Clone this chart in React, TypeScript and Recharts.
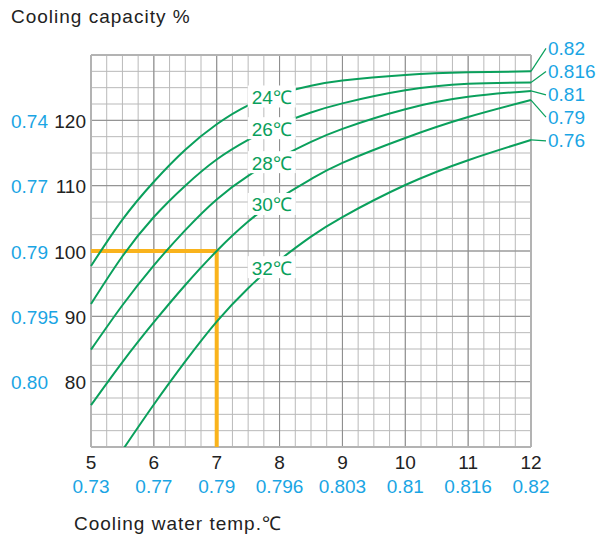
import React from 'react'
import {
  LineChart,
  Line,
  XAxis,
  YAxis,
  CartesianGrid,
  ReferenceLine,
  ReferenceDot,
} from 'recharts'

// cooling water temperature (x) and cooling capacity % for each air temperature
const waterTemps = [5, 5.5, 6, 6.5, 7, 7.5, 8, 8.5, 9, 10, 11, 12]
const cap24 = [97.7, 104.8, 110.6, 115.5, 119.4, 122.3, 124.1, 125.3, 126.1, 126.95, 127.35, 127.5]
const cap26 = [91.9, 99.2, 105.2, 110.0, 114.0, 117.0, 119.4, 121.2, 122.6, 124.6, 125.6, 125.8]
const cap28 = [84.9, 91.7, 97.8, 103.2, 107.9, 111.5, 114.3, 116.7, 118.7, 121.7, 123.6, 124.5]
const cap30 = [76.4, 83.0, 89.1, 94.8, 100.0, 104.5, 108.1, 111.0, 113.5, 117.3, 120.5, 123.1]
const cap32 = [null, 69.5, 76.5, 83.1, 89.2, 94.3, 98.6, 102.2, 105.2, 110.1, 113.9, 117.0]

const airTemps = ['24℃', '26℃', '28℃', '30℃', '32℃']
const endFactors = ['0.82', '0.816', '0.81', '0.79', '0.76']

const xTicks = [5, 6, 7, 8, 9, 10, 11, 12]
const xFactors = ['0.73', '0.77', '0.79', '0.796', '0.803', '0.81', '0.816', '0.82']
const yTicks = [80, 90, 100, 110, 120]
const yFactors = ['0.80', '0.795', '0.79', '0.77', '0.74']

const xDomain = [5, 12]
const yDomain = [70, 130]

// design point marked in orange
const designTemp = 7
const designCap = 100
const labelTemp = 7.875

const series = [cap24, cap26, cap28, cap30, cap32]
const keys = ['c24', 'c26', 'c28', 'c30', 'c32']

const rows = waterTemps.map((t, i) => {
  const row: any = { t }
  keys.forEach((k, s) => (row[k] = series[s][i]))
  return row
})

const minorX: number[] = []
for (let v = 5; v <= 12.001; v += 0.25) minorX.push(v)
const minorY: number[] = []
for (let v = 70; v <= 130.001; v += 2.5) minorY.push(v)
const majorX = xTicks
const majorY = [80, 90, 100, 110, 120]

const GREEN = '#0aa05c'
const BLUE = '#1aa5e4'
const ORANGE = '#f9b31c'
const FONT = '"Liberation Sans", Arial, sans-serif'

// leader line shift (px) from curve end to the factor text
const tagShift = [-23, -11, 4, 17, 1]

function valueAt(s: (number | null)[], x: number) {
  for (let i = 1; i < waterTemps.length; i++) {
    if (x <= waterTemps[i]) {
      const a = s[i - 1] as number
      const b = s[i] as number
      const f = (x - waterTemps[i - 1]) / (waterTemps[i] - waterTemps[i - 1])
      return a + (b - a) * f
    }
  }
  return s[s.length - 1] as number
}

const XTick = (props: any) => {
  const { x, y, payload, index } = props
  return (
    <g>
      <text x={x} y={y + 15} textAnchor="middle" dominantBaseline="central" fontSize={19} fill="#222" fontFamily={FONT}>
        {payload.value}
      </text>
      <text x={x} y={y + 39} textAnchor="middle" dominantBaseline="central" fontSize={19} fill={BLUE} fontFamily={FONT}>
        {xFactors[index]}
      </text>
    </g>
  )
}

const YTick = (props: any) => {
  const { x, y, payload, index } = props
  return (
    <g>
      <text x={x - 5} y={y + 1} textAnchor="end" dominantBaseline="central" fontSize={19} fill="#222" fontFamily={FONT}>
        {payload.value}
      </text>
      <text x={x - 80} y={y + 1} textAnchor="start" dominantBaseline="central" fontSize={19} fill={BLUE} fontFamily={FONT}>
        {yFactors[index]}
      </text>
    </g>
  )
}

const endTag = (s: number) => (props: any) => {
  const { x, y, index } = props
  if (index !== waterTemps.length - 1) return <g />
  const ty = y + tagShift[s]
  return (
    <g>
      <line x1={x} y1={y} x2={x + 15} y2={ty} stroke={GREEN} strokeWidth={1.2} />
      <text x={x + 17} y={ty} dominantBaseline="central" fontSize={19} fill={BLUE} fontFamily={FONT}>
        {endFactors[s]}
      </text>
    </g>
  )
}

const curveLabel = (s: number) => (props: any) => {
  const { cx, cy } = props
  return (
    <g>
      <rect x={cx - 24} y={cy - 11} width={48} height={22} fill="#fff" />
      <text x={cx} y={cy + 1} textAnchor="middle" dominantBaseline="central" fontSize={19} fill={GREEN} fontFamily={FONT}>
        {airTemps[s]}
      </text>
    </g>
  )
}

// grid lines placed through the axis scale when available, else through the plot offset
const gridGen = (vals: number[], axis: 'x' | 'y') => (p: any) => {
  const a = axis === 'x' ? p.xAxis : p.yAxis
  if (a && typeof a.scale === 'function') return vals.map((v) => a.scale(v))
  const o = p.offset
  if (axis === 'x') {
    return vals.map((v) => o.left + ((v - xDomain[0]) / (xDomain[1] - xDomain[0])) * o.width)
  }
  return vals.map((v) => o.top + ((yDomain[1] - v) / (yDomain[1] - yDomain[0])) * o.height)
}

export default function App() {
  return (
    <div style={{ position: 'absolute', left: 0, top: 0, width: 601, height: 542, background: '#fff', fontFamily: FONT }}>
      <div style={{ position: 'absolute', left: 11, top: 7, fontSize: 19, lineHeight: '20px', color: '#222', letterSpacing: 1 }}>
        Cooling capacity %
      </div>
      <div style={{ position: 'absolute', left: 74, top: 514, fontSize: 19, lineHeight: '20px', color: '#222', letterSpacing: 1 }}>
        Cooling water temp.℃
      </div>
      <LineChart width={601} height={542} data={rows} margin={{ top: 55, right: 70, left: 0, bottom: 0 }}>
        <CartesianGrid
          stroke="#b9b9b9"
          strokeWidth={1}
          verticalCoordinatesGenerator={gridGen(minorX, 'x')}
          horizontalCoordinatesGenerator={gridGen(minorY, 'y')}
        />
        <CartesianGrid
          stroke="#8c8c8c"
          strokeWidth={1}
          verticalCoordinatesGenerator={gridGen(majorX, 'x')}
          horizontalCoordinatesGenerator={gridGen(majorY, 'y')}
        />
        <CartesianGrid
          stroke="#b3b3b3"
          strokeWidth={2}
          verticalCoordinatesGenerator={gridGen([5, 12], 'x')}
          horizontalCoordinatesGenerator={gridGen([70, 130], 'y')}
        />
        <XAxis
          dataKey="t"
          type="number"
          domain={xDomain}
          ticks={xTicks}
          tick={<XTick />}
          tickLine={false}
          axisLine={false}
          tickSize={0}
          tickMargin={0}
          height={95}
          interval={0}
        />
        <YAxis
          type="number"
          domain={yDomain}
          ticks={yTicks}
          tick={<YTick />}
          tickLine={false}
          axisLine={false}
          tickSize={0}
          tickMargin={0}
          width={91}
          interval={0}
          allowDataOverflow
        />
        <ReferenceLine
          segment={[{ x: 5, y: designCap }, { x: designTemp, y: designCap }]}
          stroke={ORANGE}
          strokeWidth={4}
        />
        <ReferenceLine
          segment={[{ x: designTemp, y: designCap + 0.3 }, { x: designTemp, y: 70 }]}
          stroke={ORANGE}
          strokeWidth={4}
        />
        {keys.map((k, s) => (
          <Line
            key={k}
            dataKey={k}
            type="natural"
            stroke={GREEN}
            strokeWidth={2}
            dot={false}
            activeDot={false}
            isAnimationActive={false}
            label={endTag(s)}
          />
        ))}
        {series.map((s, i) => (
          <ReferenceDot
            key={'lab' + i}
            x={labelTemp}
            y={valueAt(s, labelTemp)}
            r={0}
            shape={curveLabel(i)}
          />
        ))}
      </LineChart>
    </div>
  )
}
